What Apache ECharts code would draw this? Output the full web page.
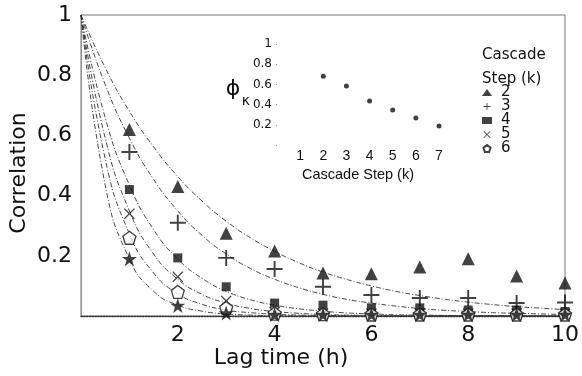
<!DOCTYPE html>
<html>
<head>
<meta charset="utf-8">
<script src="https://cdn.jsdelivr.net/npm/echarts@6/dist/echarts.min.js"></script>
<style>
	html, body {margin: 0; padding: 0; background: #fff;}
	#chart {width: 582px; height: 376px;}
</style>
</head>
<body>
<div id="chart"></div>
<script>
// measured points, lag time 1..10 h, one array per cascade step
const lagHours = [1, 2, 3, 4, 5, 6, 7, 8, 9, 10];
const corrK2 = [0.62, 0.43, 0.275, 0.216, 0.143, 0.14, 0.163, 0.19, 0.133, 0.11];
const corrK3 = [0.545, 0.31, 0.193, 0.156, 0.097, 0.07, 0.06, 0.06, 0.043, 0.045];
const corrK4 = [0.42, 0.193, 0.097, 0.043, 0.036, 0.027, 0.027, 0.02, 0.02, 0.015];
const corrK5 = [0.34, 0.13, 0.05, 0.013, 0.008, 0.008, 0.008, 0.008, 0.008, 0.008];
const corrK6 = [0.26, 0.08, 0.027, 0.008, 0.006, 0.005, 0.005, 0.005, 0.005, 0.005];
const corrK7 = [0.19, 0.035, 0.01, 0.005, 0.005, 0.005, 0.005, 0.005, 0.005, 0.005];

// fitted curves, every half hour
const fitX = [0, 0.5, 1, 1.5, 2, 2.5, 3, 3.5, 4, 4.5, 5, 5.5, 6, 6.5, 7, 7.5, 8, 8.5, 9, 9.5, 10];
const fitK2 = [1, 0.825, 0.68, 0.562, 0.463, 0.382, 0.315, 0.26, 0.215, 0.177, 0.146, 0.121, 0.1, 0.082, 0.068, 0.056, 0.046, 0.038, 0.031, 0.026, 0.021];
const fitK3 = [1, 0.769, 0.591, 0.454, 0.349, 0.268, 0.206, 0.158, 0.122, 0.094, 0.072, 0.055, 0.043, 0.033, 0.025, 0.019, 0.015, 0.011, 0.009, 0.007, 0.005];
const fitK4 = [1, 0.659, 0.435, 0.287, 0.189, 0.125, 0.082, 0.054, 0.036, 0.024, 0.016, 0.01, 0.007, 0.004, 0.003, 0.002, 0.001, 0.001, 0.001, 0, 0];
const fitK5 = [1, 0.591, 0.349, 0.206, 0.122, 0.072, 0.043, 0.025, 0.015, 0.009, 0.005, 0.003, 0.002, 0.001, 0, 0, 0, 0, 0, 0, 0];
const fitK6 = [1, 0.522, 0.273, 0.143, 0.074, 0.039, 0.02, 0.011, 0.006, 0.003, 0.002, 0.001, 0, 0, 0, 0, 0, 0, 0, 0, 0];
const fitK7 = [1, 0.435, 0.189, 0.082, 0.036, 0.016, 0.007, 0.003, 0.001, 0, 0, 0, 0, 0, 0, 0, 0, 0, 0, 0, 0];

// inset: phi_k against cascade step
const insetSteps = [2, 3, 4, 5, 6, 7];
const insetPhi = [0.68, 0.585, 0.435, 0.347, 0.267, 0.188];

const mainTicksY = ['0.2', '0.4', '0.6', '0.8', '1'];

const ink = '#111';
const plusPath = 'path://M4.4,0H5.6V4.4H10V5.6H5.6V10H4.4V5.6H0V4.4H4.4Z';
const crossPath = 'path://M0,0.8L0.8,0L5,4.2L9.2,0L10,0.8L5.8,5L10,9.2L9.2,10L5,5.8L0.8,10L0,9.2L4.2,5Z';
const pentaPath = 'path://M5,0L10,3.8L8.1,10H1.9L0,3.8Z';
const starPath = 'path://M5,0L6.2,3.6H10L6.9,5.8L8.1,9.5L5,7.3L1.9,9.5L3.1,5.8L0,3.6H3.8Z';

const pairs = (xs, ys) => xs.map((x, i) => [x, ys[i]]);

function fitLine(ys) {
	return {
		type: 'line',
		xAxisIndex: 0,
		yAxisIndex: 0,
		data: pairs(fitX, ys),
		showSymbol: false,
		smooth: 0.5,
		silent: true,
		z: 2,
		lineStyle: {color: '#333', width: 0.9, type: [5, 2, 1, 2]},
	};
}

function points(name, ys, symbol, size, extra) {
	return Object.assign({
		name,
		type: 'scatter',
		xAxisIndex: 0,
		yAxisIndex: 0,
		data: pairs(lagHours, ys),
		symbol,
		symbolSize: size,
		z: 5,
		itemStyle: {color: ink},
	}, extra || {});
}

const chart = echarts.init(document.getElementById('chart'), null, {renderer: 'canvas'});

chart.setOption({
	animation: false,
	textStyle: {fontFamily: 'DejaVu Sans', color: ink},
	grid: [
		{left: 81, right: 14, top: 15, bottom: 60, show: true, borderColor: '#777', borderWidth: 1, backgroundColor: 'transparent'},
		{left: 277, right: 143, top: 44, bottom: 231},
	],
	xAxis: [
		{
			gridIndex: 0, type: 'value', min: 0, max: 10, interval: 2,
			axisLine: {lineStyle: {color: '#333', width: 1.4, type: 'dotted'}},
			axisTick: {show: false},
			splitLine: {show: false},
			axisLabel: {
				margin: 8, fontSize: 22, color: ink,
				formatter: v => (v === 0 ? '' : String(v)),
			},
		},
		{
			gridIndex: 1, type: 'value', min: 0, max: 7, interval: 1,
			axisLine: {show: false},
			axisTick: {show: false},
			splitLine: {show: false},
			axisLabel: {
				margin: 4, fontSize: 14, fontFamily: 'Liberation Sans', color: ink,
				formatter: v => (v === 0 ? '' : String(v)),
			},
			name: 'Cascade Step (k)',
			nameLocation: 'middle',
			nameGap: 22,
			nameTextStyle: {fontSize: 14.5, fontFamily: 'Liberation Sans', color: ink},
		},
	],
	yAxis: [
		{
			gridIndex: 0, type: 'value', min: 0, max: 1, interval: 0.2,
			axisLine: {show: true, lineStyle: {color: '#888', width: 1, type: 'dotted'}},
			axisTick: {show: false},
			splitLine: {show: false},
			axisLabel: {
				margin: 9, fontSize: 22, color: ink,
				formatter: v => mainTicksY.find(t => Math.abs(Number(t) - v) < 1e-6) || '',
			},
		},
		{
			gridIndex: 1, type: 'value', min: 0, max: 1, interval: 0.2,
			axisLine: {show: false},
			axisTick: {show: true, length: 1, lineStyle: {color: '#999'}},
			splitLine: {show: false},
			axisLabel: {
				margin: 5, fontSize: 12, color: ink,
				formatter: v => (v < 0.01 ? '' : String(Math.round(v * 10) / 10)),
			},
		},
	],
	legend: {
		left: 482,
		top: 85,
		padding: 0,
		orient: 'vertical',
		itemWidth: 10,
		itemHeight: 7,
		itemGap: -1,
		selectedMode: false,
		data: ['2', '3', '4', '5', '6'],
		textStyle: {fontSize: 15, color: ink, padding: [0, 0, 0, 4]},
	},
	graphic: [
		{type: 'text', left: 482, top: 43, style: {text: 'Cascade\nStep (k)', font: '15px "DejaVu Sans"', lineHeight: 24, fill: ink}},
		{type: 'text', x: 19, y: 173, rotation: Math.PI / 2, style: {text: 'Correlation', font: '22px "DejaVu Sans"', fill: ink, align: 'center', verticalAlign: 'middle'}},
		{type: 'text', x: 281, y: 358, style: {text: 'Lag time (h)', font: '22px "DejaVu Sans"', fill: ink, align: 'center', verticalAlign: 'middle'}},
		{type: 'text', x: 233, y: 89, style: {text: '\u03D5', font: '22px "DejaVu Sans"', fill: ink, align: 'center', verticalAlign: 'middle'}},
		{type: 'text', x: 246, y: 101, style: {text: '\u03BA', font: '14px "DejaVu Sans"', fill: ink, align: 'center', verticalAlign: 'middle'}},
	],
	series: [
		fitLine(fitK2),
		fitLine(fitK3),
		fitLine(fitK4),
		fitLine(fitK5),
		fitLine(fitK6),
		fitLine(fitK7),
		points('2', corrK2, 'triangle', 13),
		points('3', corrK3, plusPath, 16),
		points('4', corrK4, 'rect', 9),
		points('5', corrK5, crossPath, 11),
		points('6', corrK6, pentaPath, 13, {itemStyle: {color: '#fff', borderColor: ink, borderWidth: 1.3}}),
		points('7', corrK7, starPath, 15),
		{
			type: 'scatter',
			xAxisIndex: 1,
			yAxisIndex: 1,
			data: pairs(insetSteps, insetPhi),
			symbol: 'circle',
			symbolSize: 5,
			itemStyle: {color: ink},
		},
	],
});
</script>
</body>
</html>
